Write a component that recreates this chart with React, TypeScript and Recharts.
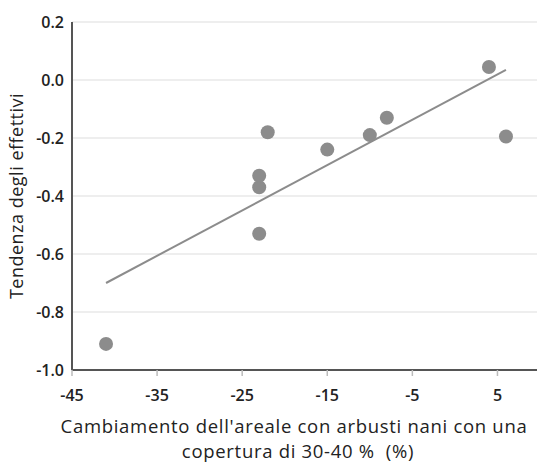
import {
    ScatterChart,
    Scatter,
    XAxis,
    YAxis,
    CartesianGrid,
} from "recharts";

// areal change (%) vs. population trend
const areaChange = [-41, -23, -23, -23, -22, -15, -10, -8, 4, 6];
const trend = [-0.91, -0.53, -0.37, -0.33, -0.18, -0.24, -0.19, -0.13, 0.045, -0.195];

// fitted regression line end points
const fitX = [-41, 6];
const fitY = [-0.7, 0.035];

const xTicks = [-45, -35, -25, -15, -5, 5];
const yTicks = [0.2, 0, -0.2, -0.4, -0.6, -0.8, -1.0];

const points = areaChange.map((x, i) => ({ x, y: trend[i] }));
const fitLine = fitX.map((x, i) => ({ x, y: fitY[i] }));

const FONT = "'Open Sans', 'Noto Sans', sans-serif";
const GREY = "#8c8c8c";

function XLabel({ viewBox }: any) {
    const cx = viewBox.x + viewBox.width / 2;
    return (
        <text
            textAnchor="middle"
            fontFamily={FONT}
            fontSize={18.5}
            fill="#222"
            letterSpacing={0.7}
            style={{ whiteSpace: "pre" }}
        >
            <tspan x={cx - 12} y={viewBox.y + 63}>
                Cambiamento dell'areale con arbusti nani con una
            </tspan>
            <tspan x={cx - 8} y={viewBox.y + 88}>
                {"copertura di 30-40 %  (%)"}
            </tspan>
        </text>
    );
}

export default function App() {
    return (
        <div style={{ position: "absolute", left: 0, top: 0, background: "#fff" }}>
            <ScatterChart
                width={537}
                height={466}
                margin={{ top: 22, right: -3, left: 0, bottom: 60 }}
            >
                <CartesianGrid
                    horizontal
                    vertical={false}
                    stroke="#e8e8e8"
                    strokeWidth={1.5}
                />
                <XAxis
                    type="number"
                    dataKey="x"
                    domain={[-45, 10]}
                    ticks={xTicks}
                    height={36}
                    axisLine={{ stroke: "#555", strokeWidth: 2 }}
                    tickLine={{ stroke: "#bbb", strokeWidth: 1.5 }}
                    tickSize={6}
                    tickMargin={14}
                    tick={{ fill: "#222", fontSize: 16, fontWeight: 600, fontFamily: FONT }}
                    label={<XLabel />}
                />
                <YAxis
                    type="number"
                    dataKey="y"
                    domain={[-1, 0.2]}
                    ticks={yTicks}
                    width={72}
                    axisLine={{ stroke: "#555", strokeWidth: 2 }}
                    tickLine={false}
                    tickFormatter={(v: number) => v.toFixed(1)}
                    tick={{ fill: "#222", fontSize: 16, fontWeight: 600, fontFamily: FONT }}
                    label={{
                        value: "Tendenza degli effettivi",
                        angle: -90,
                        position: "insideLeft",
                        dx: 12,
                        style: {
                            textAnchor: "middle",
                            fontFamily: FONT,
                            fontSize: 18,
                            letterSpacing: 0.5,
                            fill: "#222",
                        },
                    }}
                />
                <Scatter
                    data={fitLine}
                    line={{ stroke: GREY, strokeWidth: 2 }}
                    shape={() => <g />}
                    isAnimationActive={false}
                />
                <Scatter
                    data={points}
                    fill={GREY}
                    shape={(p: any) => <circle cx={p.cx} cy={p.cy} r={7} fill={GREY} />}
                    isAnimationActive={false}
                />
            </ScatterChart>
        </div>
    );
}
